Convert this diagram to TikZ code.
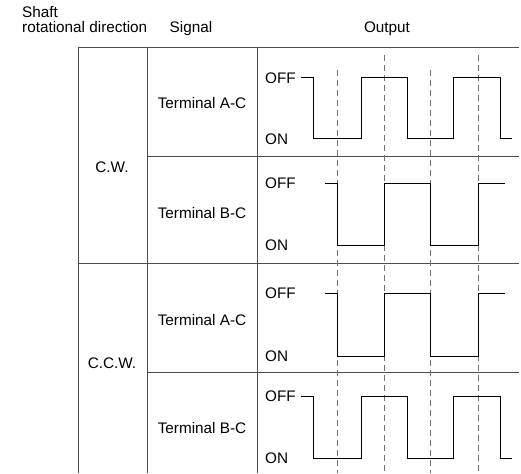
\documentclass[tikz,border=0pt]{standalone}
\usepackage{fontspec}
\setmainfont{Liberation Sans}
\usetikzlibrary{positioning}

\begin{document}
\begin{tikzpicture}[x=1pt,y=-1pt,
	every node/.style={inner sep=0pt, font=\fontsize{15.3}{17}\selectfont},
	grid/.style={draw=black!70, line width=0.8pt},
	guide/.style={draw=black!55, dashed, dash pattern=on 6pt off 4pt, line width=0.7pt},
	wave/.style={draw=black, line width=1pt}]

	\useasboundingbox (0,0) rectangle (521,473);

	% headings
	\node[anchor=base west] (shaft) at (22,18) {Shaft};
	\node[anchor=base west] (rot) at (22,33) {rotational direction};
	\node[anchor=base] (sig) at (191,33) {Signal};
	\node[anchor=base] (out) at (387,33) {Output};

	% table
	\draw[grid] (78,47) -- (519,47);
	\draw[grid] (78,47) -- (78,473);
	\draw[grid] (147,47) -- (147,473);
	\draw[grid] (257,47) -- (257,473);
	\draw[grid] (147,156) -- (519,156);
	\draw[grid] (78,263) -- (519,263);
	\draw[grid] (147,372) -- (519,372);

	\node (cw) at (112,167) {C.W.};
	\node (ccw) at (112,363) {C.C.W.};

	\node (cwac) at (202,103) {Terminal A-C};
	\node (cwbc) at (202,213) {Terminal B-C};
	\node (ccwac) at (202,320) {Terminal A-C};
	\node (ccwbc) at (202,428) {Terminal B-C};

	% level labels
	\node[anchor=west] (off1) at (265,78) {OFF};
	\node[anchor=west] (on1) at (265,139) {ON};
	\node[anchor=west] (off2) at (265,183) {OFF};
	\node[anchor=west] (on2) at (265,245) {ON};
	\node[anchor=west] (off3) at (265,293) {OFF};
	\node[anchor=west] (on3) at (265,356) {ON};
	\node[anchor=west] (off4) at (265,396) {OFF};
	\node[anchor=west] (on4) at (265,458) {ON};

	% phase guides
	\draw[guide] (337,70) -- (337,473);
	\draw[guide] (384,55) -- (384,473);
	\draw[guide] (430,70) -- (430,473);
	\draw[guide] (478,55) -- (478,473);

	% outputs
	\draw[wave] (301,78) -- (313,78) -- (313,139) -- (361,139) -- (361,78) -- (407,78)
		-- (407,139) -- (453,139) -- (453,78) -- (500,78) -- (500,139) -- (512,139);
	\draw[wave] (325,183) -- (337,183) -- (337,245) -- (384,245) -- (384,183) -- (430,183)
		-- (430,245) -- (478,245) -- (478,183) -- (505,183);
	\draw[wave] (325,293) -- (337,293) -- (337,356) -- (384,356) -- (384,293) -- (430,293)
		-- (430,356) -- (478,356) -- (478,293) -- (505,293);
	\draw[wave] (301,396) -- (313,396) -- (313,458) -- (361,458) -- (361,396) -- (407,396)
		-- (407,458) -- (453,458) -- (453,396) -- (500,396) -- (500,458) -- (512,458);
\end{tikzpicture}
\end{document}
